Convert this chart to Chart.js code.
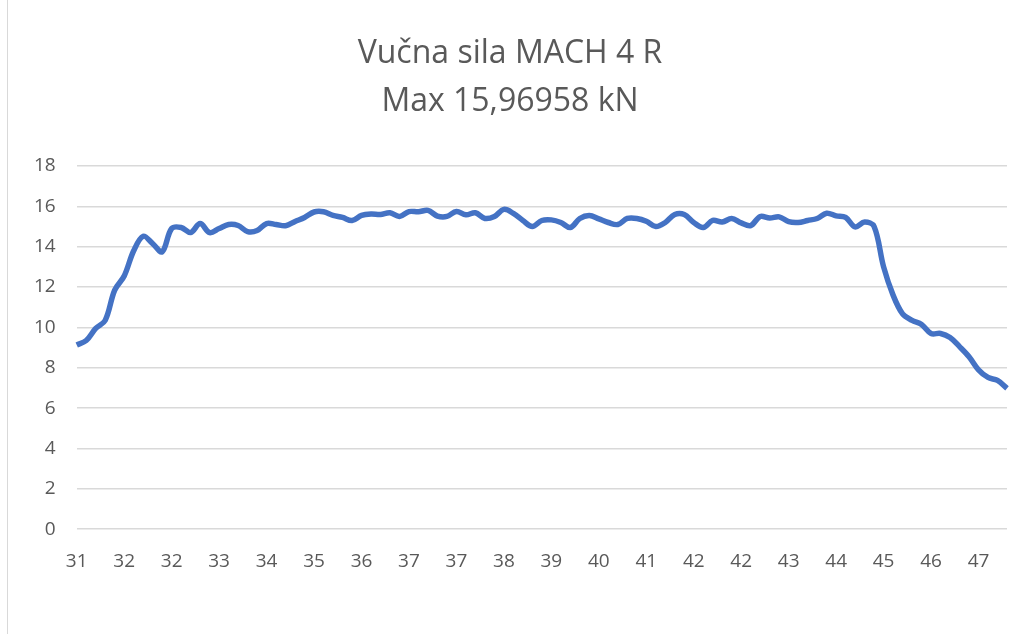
<!DOCTYPE html>
<html>
<head>
<meta charset="utf-8">
<title>Vučna sila MACH 4 R</title>
<script src="https://cdn.jsdelivr.net/npm/chart.js@4/dist/chart.umd.min.js"></script>
<style>
  html, body { margin: 0; padding: 0; background: #fff; }
  #wrap { position: relative; width: 1027px; height: 634px; overflow: hidden; }
  #edge { position: absolute; left: 7px; top: 0; width: 1px; height: 634px; background: #d9d9d9; }
</style>
</head>
<body>
<div id="wrap">
  <div id="edge"></div>
  <canvas id="chart"></canvas>
</div>
<script>
// tick labels shown on the x axis, one every labelStep samples
const tickLabels = ["31", "32", "32", "33", "34", "35", "36", "37", "37", "38",
                    "39", "40", "41", "42", "42", "43", "44", "45", "46", "47"];
const labelStep = 5;

// traction force samples, kN
const forceKN = [
  9.13, 9.35, 9.95, 10.35, 11.85, 12.55, 13.8, 14.52, 14.15, 13.75,
  14.9, 14.95, 14.7, 15.15, 14.7, 14.9, 15.1, 15.05, 14.75, 14.8,
  15.15, 15.1, 15.04, 15.25, 15.45, 15.72, 15.73, 15.55, 15.45, 15.3,
  15.55, 15.62, 15.6, 15.68, 15.5, 15.74, 15.73, 15.8, 15.52, 15.5,
  15.75, 15.58, 15.68, 15.4, 15.5, 15.85, 15.65, 15.3, 15.0, 15.3,
  15.33, 15.2, 14.95, 15.4, 15.55, 15.38, 15.2, 15.1, 15.4, 15.4,
  15.26, 15.0, 15.2, 15.6, 15.6, 15.2, 14.95, 15.3, 15.22, 15.4,
  15.18, 15.05, 15.5, 15.42, 15.48, 15.24, 15.2, 15.3, 15.4, 15.66,
  15.53, 15.45, 14.98, 15.22, 15.0, 13.0, 11.6, 10.67, 10.35, 10.15,
  9.7, 9.7, 9.5, 9.05, 8.55, 7.9, 7.52, 7.37, 6.98
];

const titleLines = ["Vučna sila MACH 4 R", "Max 15,96958 kN"];
const yMin = 0, yMax = 18, yStep = 2;

const categories = forceKN.map((_, i) => i % labelStep === 0 ? tickLabels[i / labelStep] : "");

const textColor = "#595959";
const fontFamily = "'Open Sans', 'Liberation Sans', sans-serif";

new Chart(document.getElementById("chart"), {
  type: "line",
  data: {
    labels: categories,
    datasets: [{
      data: forceKN,
      borderColor: "#4472C4",
      borderWidth: 5.5,
      pointRadius: 0,
      tension: 0.35,
      fill: false
    }]
  },
  options: {
    responsive: true,
    maintainAspectRatio: false,
    devicePixelRatio: 1,
    animation: false,
    layout: { padding: { left: 13, right: 20, top: 0, bottom: 48 } },
    plugins: {
      legend: { display: false },
      tooltip: { enabled: false },
      title: {
        display: true,
        text: titleLines,
        color: textColor,
        font: { family: fontFamily, size: 32, weight: "normal", lineHeight: 1.5 },
        padding: { top: 30, bottom: 40 }
      }
    },
    scales: {
      x: {
        grid: { display: false },
        border: { display: false },
        ticks: {
          autoSkip: false,
          maxRotation: 0,
          padding: 13,
          color: textColor,
          font: { family: fontFamily, size: 19 }
        }
      },
      y: {
        min: yMin,
        max: yMax,
        grid: { color: "#d9d9d9", lineWidth: 1.5, drawTicks: false },
        border: { display: false },
        ticks: {
          stepSize: yStep,
          padding: 21,
          color: textColor,
          font: { family: fontFamily, size: 19 }
        }
      }
    }
  }
});
</script>
</body>
</html>
